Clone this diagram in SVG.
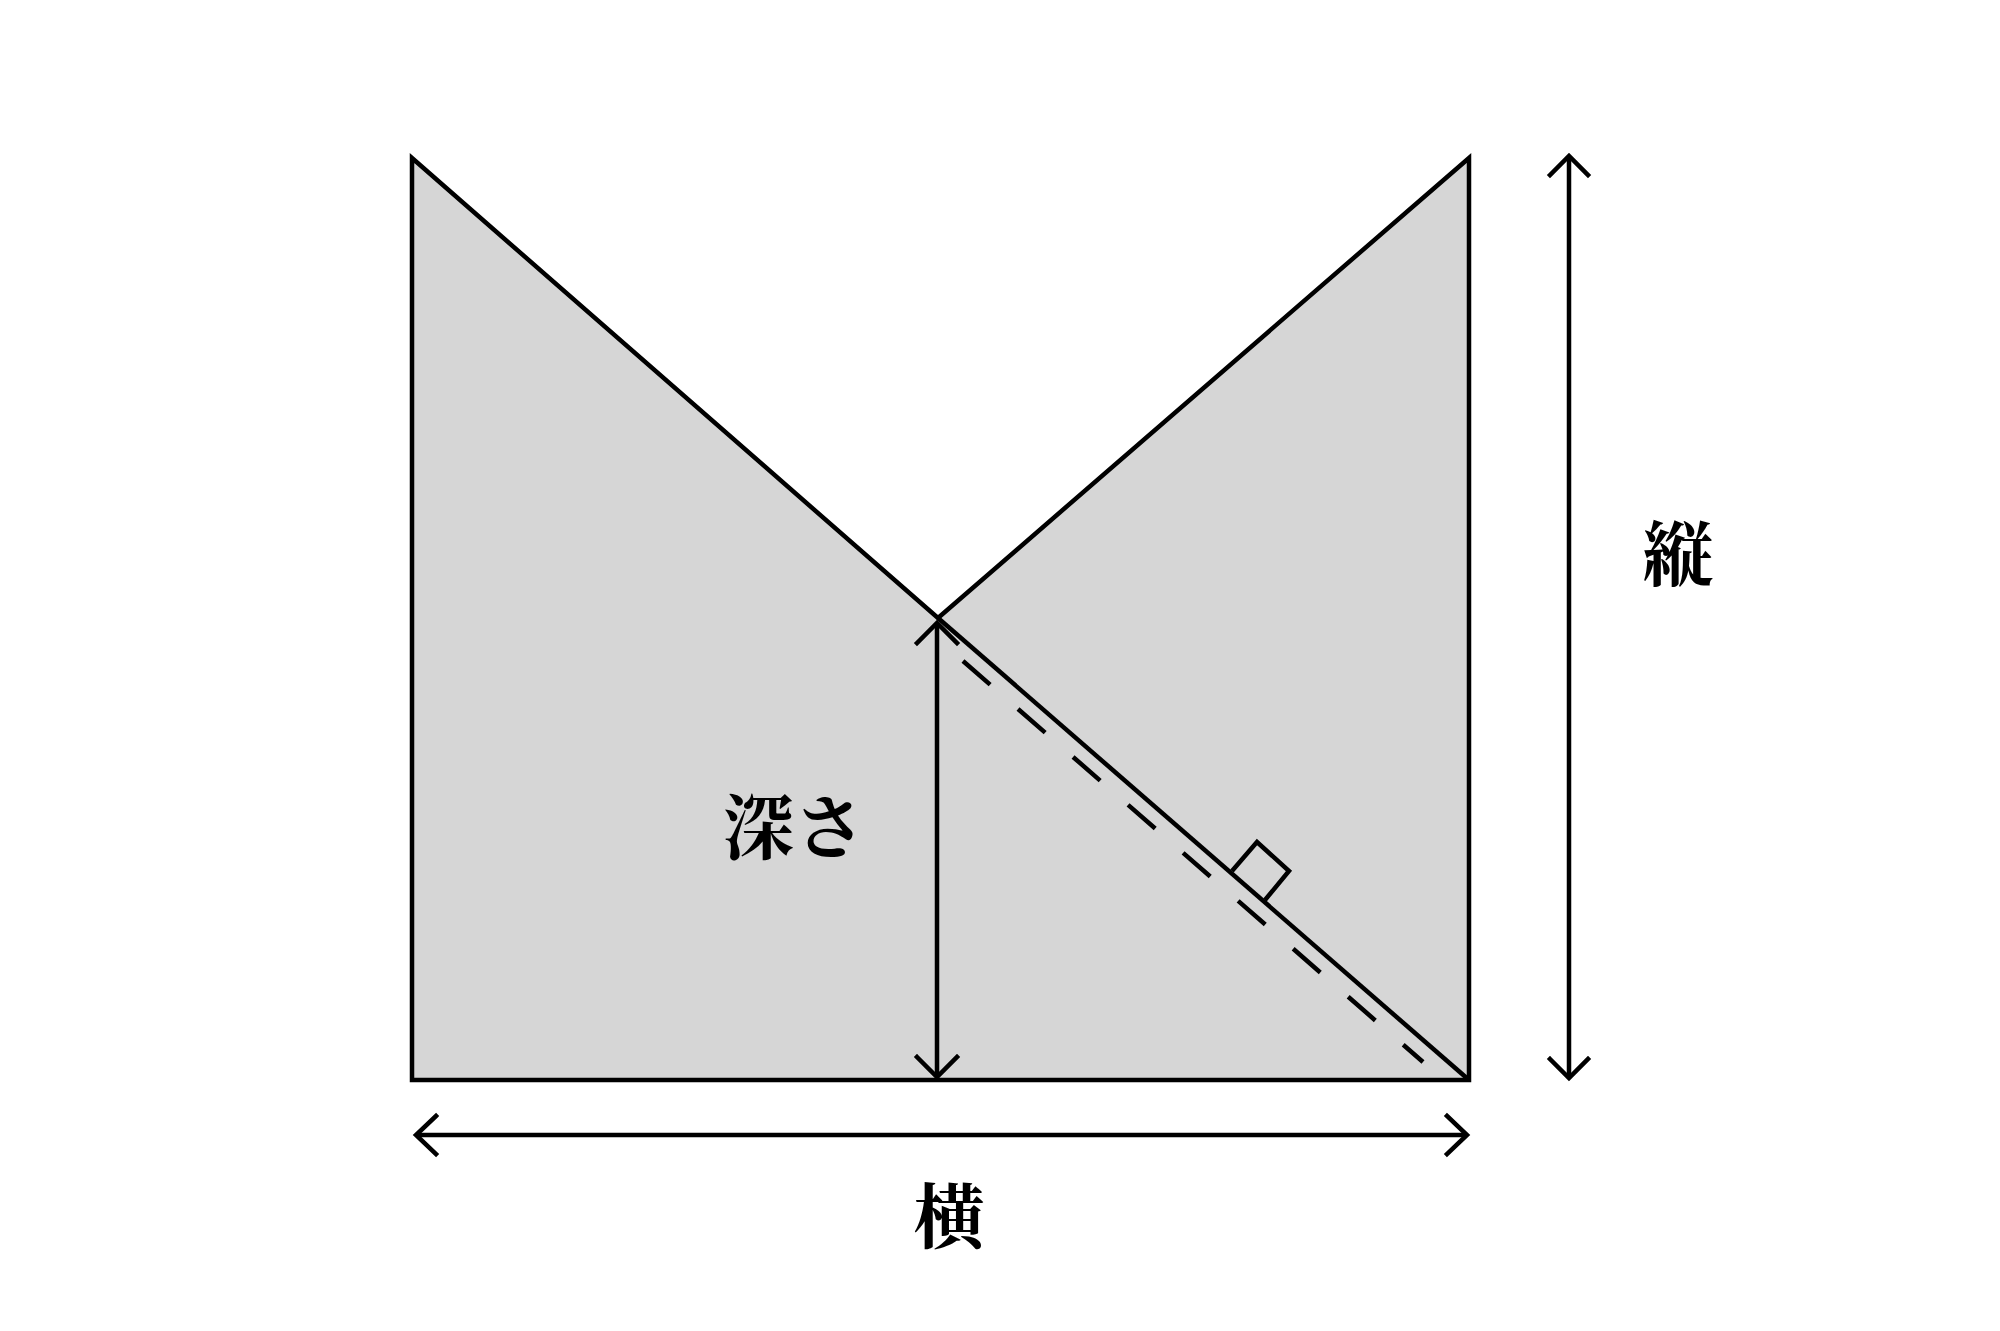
<svg xmlns="http://www.w3.org/2000/svg" width="2000" height="1331" viewBox="0 0 2000 1331">
<style>
.ln{fill:none;stroke:#000;stroke-width:4.5;stroke-linecap:butt;stroke-linejoin:miter}
.ah{fill:none;stroke:#000;stroke-width:4.5;stroke-linecap:square;stroke-linejoin:miter}
.dash{fill:none;stroke:#000;stroke-width:4.5;stroke-dasharray:36 37}
.lbl{font-family:"Noto Serif CJK JP","Noto Sans CJK JP",serif;font-weight:bold;font-size:71px;fill:#000;text-anchor:middle}
</style>
<rect width="2000" height="1331" fill="#fff"/>
<g id="shape">
<polygon points="412,158 938,618 1469,158 1469,1080 412,1080" fill="#d6d6d6" stroke="#000" stroke-width="4.5" stroke-linejoin="miter"/>
<line class="ln" x1="938" y1="618" x2="1469" y2="1080"/>
</g>
<g id="connectors">
<line class="dash" x1="963" y1="661" x2="1423" y2="1062"/>
<g id="depth-arrow">
<line class="ln" x1="937" y1="624" x2="937" y2="1077"/>
<polyline class="ah" points="917,643 937,623 957,643"/>
<polyline class="ah" points="917,1057 937,1077 957,1057"/>
</g>
<g id="width-arrow">
<line class="ln" x1="416" y1="1135" x2="1466" y2="1135"/>
<polyline class="ah" points="436,1116 416,1135 436,1154"/>
<polyline class="ah" points="1447,1116 1467,1135 1447,1154"/>
</g>
<g id="height-arrow">
<line class="ln" x1="1569" y1="157" x2="1569" y2="1078"/>
<polyline class="ah" points="1550,175 1569,156 1588,175"/>
<polyline class="ah" points="1550,1059 1569,1078 1588,1059"/>
</g>
<polyline id="right-angle" class="ln" points="1232,871 1257,842 1289,871 1265,900"/>
</g>
<g id="label-depth"><text class="lbl" x="794" y="853">深さ</text></g>
<g id="label-height"><text class="lbl" x="1678" y="580">縦</text></g>
<g id="label-width"><text class="lbl" x="949" y="1242">横</text></g>
</svg>
